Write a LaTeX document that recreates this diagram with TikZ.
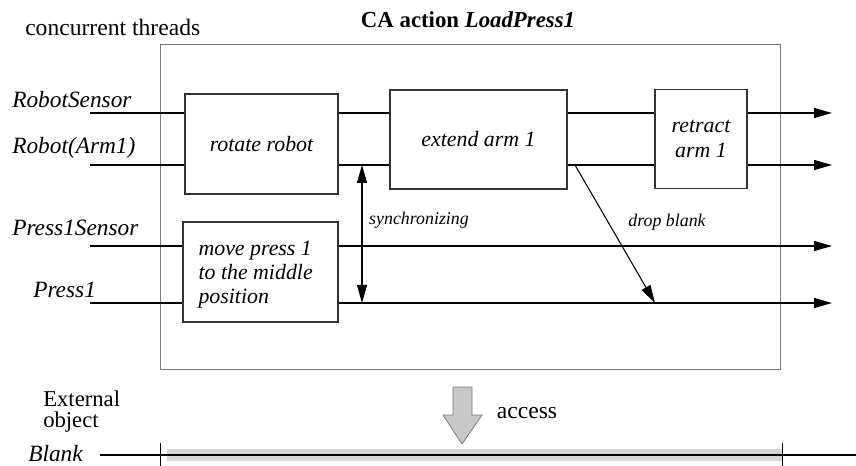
\documentclass[tikz,border=0pt]{standalone}
\usepackage{fontspec}
\setmainfont{Liberation Serif}
\usepackage{tikz}
\usetikzlibrary{arrows.meta,calc}
\definecolor{frameG}{HTML}{7A7A7A}
\definecolor{boxG}{HTML}{333333}
\definecolor{bandG}{HTML}{D6D6D6}
\definecolor{accG}{HTML}{C8C8C8}

\begin{document}
\begin{tikzpicture}[x=0.75pt,y=-0.75pt,
    act/.style={draw=boxG, line width=0.8pt, inner sep=0pt, font=\fontsize{16.4}{18.5}\selectfont\itshape},
    thrd/.style={anchor=base west, inner sep=0pt, font=\fontsize{17.5}{20}\selectfont\itshape},
    note/.style={inner sep=0pt, font=\fontsize{13.4}{16}\selectfont\itshape},
    wire/.style={line width=0.8pt},
    tip/.style={-{Triangle[length=13.5pt,width=7.5pt]}}
]
\useasboundingbox (0,0) rectangle (856,466);

% ---- headings ----
\node[anchor=west, inner sep=0pt, font=\fontsize{17.7}{20}\selectfont] (conc) at (25,27) {concurrent threads};
\node[inner sep=0pt, font=\fontsize{17.1}{20}\selectfont\bfseries] (title) at (468,20) {CA action \textit{LoadPress1}};

% ---- CA action frame ----
\node[draw=frameG, line width=0.7pt, minimum width=465pt, minimum height=243.75pt, inner sep=0pt] (ca) at (470,206.5) {};

% ---- thread names ----
\node[thrd] (nRS) at (12,108) {RobotSensor};
\node[thrd] (nRA) at (12,154) {Robot(Arm1)};
\node[thrd] (nPS) at (12,236) {Press1Sensor};
\node[thrd] (nP) at (33,298) {Press1};
\coordinate (s1) at (90,113); \coordinate (e1) at (832,113);
\coordinate (s2) at (90,165); \coordinate (e2) at (832,165);
\coordinate (s3) at (90,246); \coordinate (e3) at (832,246);
\coordinate (s4) at (90,303); \coordinate (e4) at (832,303);

% ---- actions ----
\node[act, minimum width=114.75pt, minimum height=75pt] (rot) at (261.5,144) {rotate robot};
\node[act, minimum width=132.75pt, minimum height=74.25pt] (ext) at (478.5,139.5) {extend arm 1};
\node[act, minimum width=69pt, minimum height=74.25pt, align=center] (ret) at (701,139) {retract\\arm 1};
\node[act, minimum width=116.25pt, minimum height=75pt] (mov) at (260.5,272) {};
\node[act, draw=none, anchor=west, align=left, font=\fontsize{16.4}{18}\selectfont\itshape] (movt) at (198,275) {move press 1\\to the middle\\position};

% ---- thread lines ----
\draw[wire] (s1) -- (s1 -| rot.west); \draw[wire] (s1 -| rot.east) -- (s1 -| ext.west);
\draw[wire] (s1 -| ext.east) -- (s1 -| ret.west); \draw[wire,tip] (s1 -| ret.east) -- (e1);
\draw[wire] (s2) -- (s2 -| rot.west); \draw[wire] (s2 -| rot.east) -- (s2 -| ext.west);
\draw[wire] (s2 -| ext.east) -- (s2 -| ret.west); \draw[wire,tip] (s2 -| ret.east) -- (e2);
\draw[wire] (s3) -- (s3 -| mov.west); \draw[wire,tip] (s3 -| mov.east) -- (e3);
\draw[wire] (s4) -- (s4 -| mov.west); \draw[wire,tip] (s4 -| mov.east) -- (e4);

% ---- synchronizing / drop blank ----
\coordinate (syA) at (362,165); \coordinate (syB) at (362,303);
\draw[wire, {Triangle[length=13.5pt,width=7.5pt]}-{Triangle[length=13.5pt,width=7.5pt]}] (syA) -- (syB);
\node[note] (sync) at (419,220) {synchronizing};
\coordinate (dpA) at (575,165); \coordinate (dpB) at (655,303);
\draw[wire,tip] (dpA) -- (dpB);
\node[note] (drop) at (667,222) {drop blank};

% ---- external object ----
\node[anchor=base west, inner sep=0pt, font=\fontsize{17}{20}\selectfont] (ext1) at (43,406) {External};
\node[anchor=base west, inner sep=0pt, font=\fontsize{17}{20}\selectfont] (ext2) at (43,427) {object};
\node[thrd] (nB) at (28,461) {Blank};
\fill[bandG] (167,449) rectangle (782,461);
\coordinate (bS) at (100,455); \coordinate (bE) at (856,455);
\draw[line width=1.3pt] (bS) -- (bE);
\draw[line width=0.6pt] (160,443) -- (160,466);
\draw[line width=0.6pt] (782,443) -- (782,466);

% ---- access ----
\draw[fill=accG, draw=frameG, line width=0.6pt]
  (453,387) -- (472,387) -- (472,415) -- (482,415) -- (462,444) -- (443,415) -- (453,415) -- cycle;
\node[inner sep=0pt, font=\fontsize{17.7}{20}\selectfont] (acc) at (527,413) {access};
\end{tikzpicture}
\end{document}
